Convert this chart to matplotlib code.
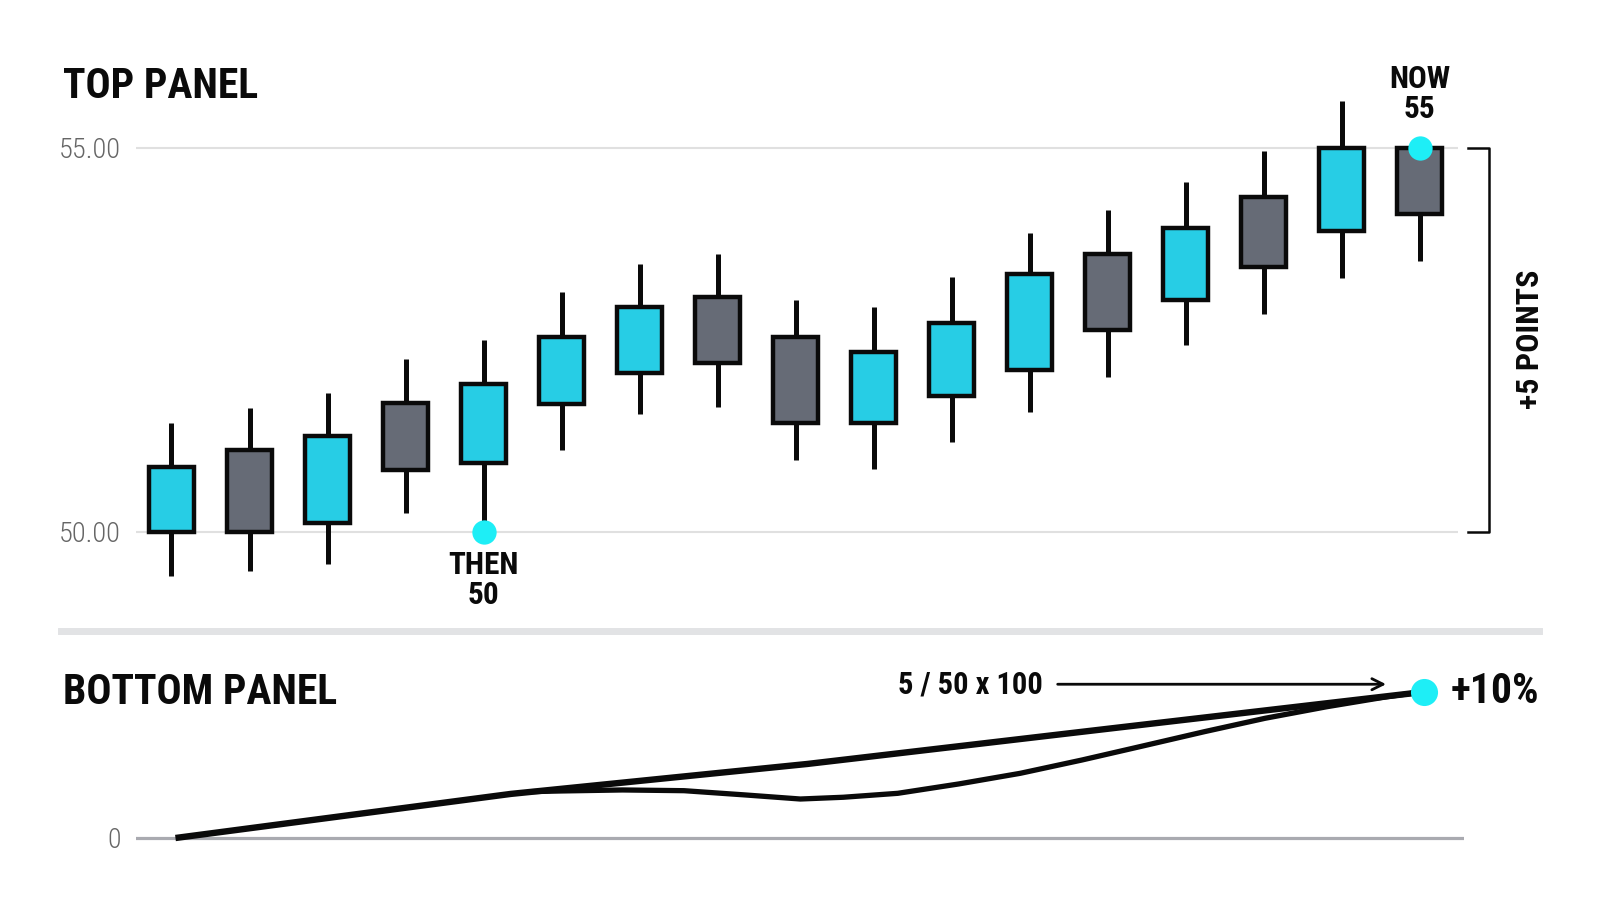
import matplotlib.pyplot as plt
from matplotlib.lines import Line2D

plt.rcParams['font.family'] = ['Liberation Sans Narrow', 'Roboto Condensed', 'Roboto', 'DejaVu Sans']

# candle data (body bottom/top)
opens = [50.00, 51.06, 50.11, 51.67, 50.90, 51.66, 52.07, 53.06, 52.54,
         51.41, 51.77, 52.11, 53.61, 53.02, 54.36, 53.91, 55.00]
closes = [50.84, 50.00, 51.25, 50.81, 51.92, 52.53, 52.93, 52.20, 51.42,
          52.34, 52.72, 53.36, 52.63, 53.95, 53.44, 55.00, 54.14]
highs = [51.42, 51.61, 51.81, 52.25, 52.50, 53.12, 53.48, 53.62, 53.01,
         52.92, 53.32, 53.89, 54.19, 54.55, 54.95, 55.60, 55.00]
lows = [49.43, 49.49, 49.58, 50.24, 50.10, 51.06, 51.53, 51.62, 50.94,
        50.82, 51.17, 51.56, 52.01, 52.43, 52.83, 53.30, 53.53]

then_idx, then_val = 4, 50
now_idx, now_val = 16, 55

# bottom panel: percent change paths
upper_x = [0, 4.3, 8.1, 12.0, 16]
upper_y = [0, 3.02, 5.07, 7.51, 10]
lower_x = [4.6, 4.94, 5.73, 6.52, 7.30, 8.01, 8.56, 9.26, 10.04, 10.83,
           11.62, 12.40, 13.19, 13.97, 14.76, 15.54, 15.85, 16]
lower_y = [3.18, 3.22, 3.29, 3.24, 2.95, 2.67, 2.79, 3.06, 3.70, 4.43,
           5.34, 6.30, 7.28, 8.20, 8.99, 9.68, 9.91, 10]

CYAN = '#27CDE5'
GRAY = '#666B76'
DOT = '#1EEEF6'
INK = '#0a0a0a'

fig = plt.figure(figsize=(16, 9.14), dpi=100)

# ---- top panel ----
ax = fig.add_axes([0.085, 0.3654, 0.82625, 0.5306])
x = list(range(len(opens)))
for y in (50, 55):
    ax.axhline(y, color='#E0E0E0', lw=1.5, zorder=0)
ax.vlines(x, lows, highs, color=INK, lw=3.6, zorder=1)
bottoms = [min(o, c) for o, c in zip(opens, closes)]
heights = [abs(c - o) for o, c in zip(opens, closes)]
colors = [CYAN if c >= o else GRAY for o, c in zip(opens, closes)]
ax.bar(x, heights, bottom=bottoms, width=0.58, color=colors,
       edgecolor=INK, linewidth=3.2, zorder=2)
ax.plot([then_idx, now_idx], [then_val, now_val], 'o', color=DOT, ms=17.5,
        mec='none', zorder=3)
ax.text(then_idx, 49.76, 'THEN\n50', ha='center', va='top', fontsize=22.5,
        fontweight='bold', color=INK, linespacing=1.0)
ax.text(now_idx, 55.3, 'NOW\n55', ha='center', va='bottom', fontsize=22.5,
        fontweight='bold', color=INK, linespacing=1.0)

# bracket for +5 points
bx0, bx1 = 16.62, 16.89
ax.plot([bx0, bx1, bx1, bx0], [55, 55, 50, 50], color=INK, lw=1.8,
        clip_on=False, zorder=3)
ax.text(17.42, 52.5, '+5 POINTS', rotation=90, ha='center', va='center',
        fontsize=23, fontweight='bold', color=INK, clip_on=False)

ax.set_xlim(-0.455, 16.491)
ax.set_ylim(49.373, 55.683)
ax.set_yticks([50, 55])
ax.set_yticklabels(['50.00', '55.00'], fontsize=20.5, color='#666666',
                   fontweight='light')
ax.tick_params(axis='y', length=0, pad=11)
ax.set_xticks([])
for s in ax.spines.values():
    s.set_visible(False)

fig.text(63 / 1600, 1 - 86 / 914, 'TOP PANEL', ha='left', va='center',
         fontsize=30, fontweight='bold', color=INK)

# separator
fig.add_artist(Line2D([61 / 1600, 1539 / 1600], [1 - 630.5 / 914] * 2,
                      color='#E2E3E5', lw=5))

# ---- bottom panel ----
bx = fig.add_axes([0.085, 1 - 850 / 914, (1464 - 136) / 1600, 190 / 914])
bx.axhline(0, color='#A9AAB0', lw=2.3, zorder=0)
bx.plot(upper_x, upper_y, color=INK, lw=4.6, solid_capstyle='butt',
        solid_joinstyle='round', zorder=2)
bx.plot(lower_x, lower_y, color=INK, lw=3.8, solid_joinstyle='round', zorder=2)
bx.plot([16], [10], 'o', color=DOT, ms=19.5, mec='none', zorder=3)
bx.text(16.35, 10, '+10%', ha='left', va='center', fontsize=30,
        fontweight='bold', color=INK, clip_on=False)
bx.text(11.12, 10.53, '5 / 50 x 100', ha='right', va='center', fontsize=22,
        fontweight='bold', color=INK)
bx.annotate('', xy=(15.52, 10.53), xytext=(11.31, 10.53),
            arrowprops=dict(arrowstyle='->', color=INK, lw=2.0,
                            mutation_scale=20, shrinkA=0, shrinkB=0))
bx.set_xlim(-0.506, 16.519)
bx.set_ylim(-0.822, 12.19)
bx.set_yticks([0])
bx.set_yticklabels(['0'], fontsize=20, color='#666666', fontweight='light')
bx.tick_params(axis='y', length=0, pad=11)
bx.set_xticks([])
for s in bx.spines.values():
    s.set_visible(False)

fig.text(63 / 1600, 1 - 693 / 914, 'BOTTOM PANEL', ha='left', va='center',
         fontsize=30, fontweight='bold', color=INK)

fig.savefig('out.png', dpi=100, facecolor='white')
